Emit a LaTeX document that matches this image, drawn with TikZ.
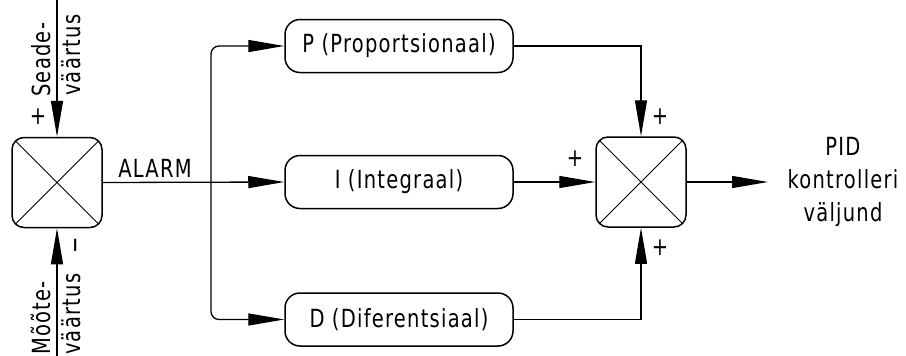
\documentclass[tikz,border=0pt]{standalone}
\usepackage{fontspec}
\setmainfont{DejaVu Sans}[FakeStretch=0.78,LetterSpace=5]
\usetikzlibrary{arrows.meta}
\begin{document}
\begin{tikzpicture}[x=1pt,y=-1pt,
  every node/.style={font=\fontsize{25}{33}\selectfont, text=black},
  sumbox/.style={draw, line width=1.5pt, rounded corners=12pt,
    minimum width=90pt, minimum height=90pt, inner sep=0pt,
    path picture={\draw[line width=1pt]
      (path picture bounding box.north west) -- (path picture bounding box.south east)
      (path picture bounding box.north east) -- (path picture bounding box.south west);}},
  block/.style={draw, line width=1.5pt, rounded corners=15pt,
    minimum width=228pt, minimum height=53pt, inner sep=0pt},
  wire/.style={line width=1.3pt},
  flow/.style={wire, -{Triangle[length=36pt,width=12pt]}},
  sign/.style={inner sep=0pt},
  vlabel/.style={rotate=90, anchor=base west, inner sep=0pt}
]
\useasboundingbox (0,0) rectangle (906,356);

% summing junctions and controller terms
\node[sumbox] (lsum) at (57,182.5) {};
\node[sumbox] (rsum) at (641,182) {};
\node[block] (pb) at (399,46) {P (Proportsionaal)};
\node[block] (ib) at (399,182) {I (Integraal)};
\node[block] (db) at (399,319.5) {D (Diferentsiaal)};

% free ends and branch point
\coordinate (setin) at (57,0);
\coordinate (measin) at (57,356);
\coordinate (split) at (211,182);
\coordinate (out) at (768,182);

% signal flow
\draw[flow] (setin) -- (lsum.north);
\draw[flow] (measin) -- (lsum.south);
\draw[flow] (lsum.east) -- (ib.west);
\draw[flow, rounded corners=8pt] (split) |- (pb.west);
\draw[flow, rounded corners=8pt] (split) |- (db.west);
\draw[flow] (pb.east) -| (rsum.north);
\draw[flow] (ib.east) -- (rsum.west);
\draw[flow] (db.east) -| (rsum.south);
\draw[flow] (rsum.east) -- (out);

% labels
\node[anchor=base] (alarm) at (155,177) {ALARM};
\node[align=center] (pid) at (843,182) {PID\\kontrolleri\\väljund};
\node[vlabel] (sp1) at (50,97) {Seade-};
\node[vlabel] (sp2) at (80,96) {väärtus};
\node[vlabel] (mv1) at (50,355) {Mõõte-};
\node[vlabel] (mv2) at (80,355) {väärtus};

% signs at the junction inputs
\node[sign] (s1) at (38,117) {+};
\node[sign, rotate=90] (s2) at (79,245) {−};
\node[sign] (s3) at (660,117) {+};
\node[sign] (s4) at (575,159) {+};
\node[sign] (s5) at (660,248) {+};
\end{tikzpicture}
\end{document}
